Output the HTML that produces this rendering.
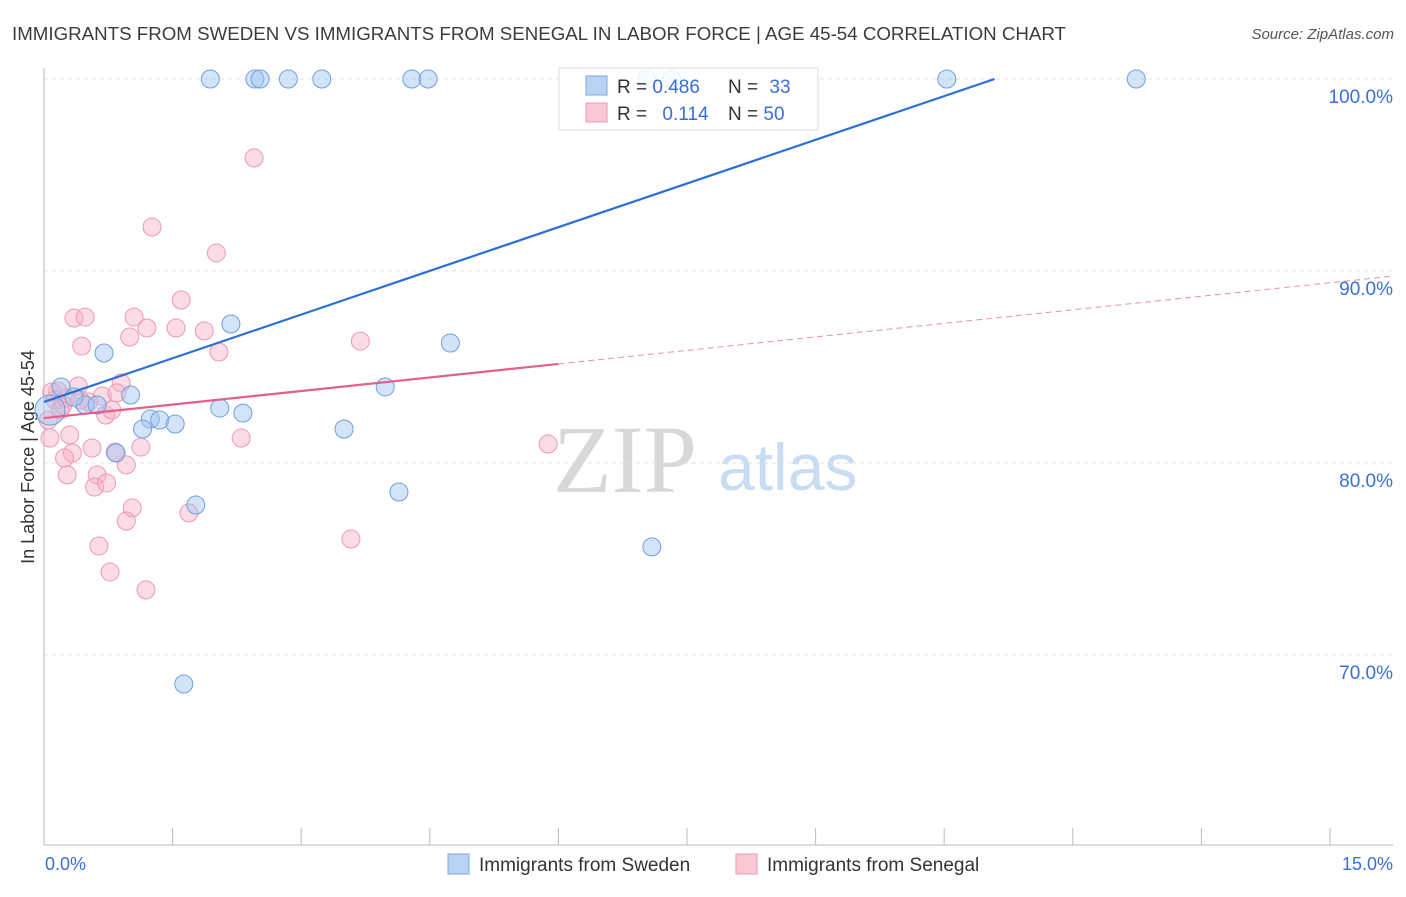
<!DOCTYPE html>
<html><head><meta charset="utf-8"><style>
body{margin:0;background:#fff;font-family:"Liberation Sans",sans-serif}
</style></head><body>
<svg id="chart" width="1406" height="892" xmlns="http://www.w3.org/2000/svg" font-family="Liberation Sans, sans-serif">
<text x="12" y="40" font-size="18" fill="#3c3c3c" textLength="1054" lengthAdjust="spacingAndGlyphs">IMMIGRANTS FROM SWEDEN VS IMMIGRANTS FROM SENEGAL IN LABOR FORCE | AGE 45-54 CORRELATION CHART</text>
<text x="1394" y="39" font-size="15" fill="#555" text-anchor="end" font-style="italic">Source: ZipAtlas.com</text>
<text x="553" y="492" font-size="96" fill="#d8d8d8" font-family="Liberation Serif, serif">ZIP</text>
<text x="718" y="490" font-size="66" fill="#c8dcf4">atlas</text>
<text transform="translate(34,457) rotate(-90)" font-size="18" fill="#333" text-anchor="middle">In Labor Force | Age 45-54</text>
<g id="grid"></g><g id="axes"></g><g id="pts"></g><g id="lines"></g>
<g>
<rect x="559" y="68" width="259" height="62" fill="rgba(255,255,255,0.85)" stroke="#ddd"/>
<rect x="586" y="76" width="21" height="19" fill="#b8d4f4" stroke="#7aa8e4"/>
<rect x="586" y="103" width="21" height="19" fill="#fbc8d6" stroke="#eb98b0"/>
<text x="617" y="93" font-size="19" fill="#333">R = <tspan fill="#3a6fd8">0.486</tspan></text>
<text x="728" y="93" font-size="19" fill="#333">N = <tspan fill="#3a6fd8" dx="6">33</tspan></text>
<text x="617" y="120" font-size="19" fill="#333">R = <tspan fill="#3a6fd8" dx="10">0.114</tspan></text>
<text x="728" y="120" font-size="19" fill="#333">N = <tspan fill="#3a6fd8">50</tspan></text>
</g>
<g>
<rect x="448" y="854" width="21" height="20" fill="#b8d4f4" stroke="#7aa8e4"/>
<text x="479" y="871" font-size="19" fill="#333">Immigrants from Sweden</text>
<rect x="736" y="854" width="21" height="20" fill="#fbc8d6" stroke="#eb98b0"/>
<text x="767" y="871" font-size="19" fill="#333">Immigrants from Senegal</text>
</g>
<text x="45" y="870" font-size="18" fill="#3a6fd8">0.0%</text>
<text x="1393" y="870" font-size="18" fill="#3a6fd8" text-anchor="end">15.0%</text>
</svg>
<script>
const yTicks=[100,90,80,70];
const yTickLabels=["100.0%","90.0%","80.0%","70.0%"];
const xTicks=[0,1.5,3,4.5,6,7.5,9,10.5,12,13.5,15];
const swedenX=[1.94,2.46,2.52,2.85,3.24,4.29,4.48,7.03,7.32,10.53,12.74,2.18,0.70,4.74,0.20,0.48,0.35,1.01,0.62,2.05,2.32,1.24,1.35,1.53,1.15,3.50,3.98,0.84,4.14,1.77,7.09,1.63,0.07];
const swedenY=[100,100,100,100,100,100,100,100,100,100,100,87.24,85.73,86.25,83.96,83.02,83.44,83.54,83.02,82.86,82.60,82.29,82.24,82.03,81.77,81.77,83.96,80.52,78.49,77.81,75.63,68.49,82.76];
const senegalX=[2.45,1.26,2.01,1.60,0.35,0.48,1.05,1.20,1.54,1.87,1.00,0.44,2.04,3.69,0.40,0.90,0.16,0.68,0.85,0.13,0.22,0.72,0.79,0.52,0.07,0.30,2.30,1.13,0.56,0.83,0.33,0.24,5.88,0.27,0.62,0.96,0.59,0.73,1.03,1.69,0.96,0.64,3.58,0.77,1.19,0.05,0.09,0.19,0.42,0.26];
const senegalY=[95.89,92.29,90.94,88.49,87.55,87.60,87.60,87.03,87.03,86.88,86.56,86.09,85.78,86.35,84.01,84.17,83.75,83.49,83.65,83.28,83.02,82.50,82.76,83.18,81.30,81.46,81.30,80.83,80.78,80.57,80.52,80.26,80.99,79.38,79.38,79.90,78.75,78.96,77.66,77.40,76.98,75.68,76.04,74.32,73.39,82.24,83.70,82.76,83.28,83.39];
const swedenTrend=[83.18,1.517];
const senegalTrend=[82.34,0.47];
const sx=v=>44+v*1286/15, sy=v=>79+(100-v)*19.2;
const NS="http://www.w3.org/2000/svg";
function mk(tag,parent,attrs){const e=document.createElementNS(NS,tag);for(const k in attrs)e.setAttribute(k,attrs[k]);document.getElementById(parent).appendChild(e);return e;}
yTicks.forEach((t,i)=>{
 const g=mk('line','grid',{x1:44,x2:1393,y1:sy(t),y2:sy(t),stroke:'#e2e2e2','stroke-dasharray':'4,4'});
 
 
 const l=mk('text','grid',{x:1393,y:sy(t)+24,'font-size':19,fill:'#3a6fd8','text-anchor':'end'});
 l.textContent=yTickLabels[i];
 
 
});
const ax=mk('line','axes',{x1:44,x2:44,y1:68,y2:845,stroke:'#bbb'});


const bx=mk('line','axes',{x1:44,x2:1393,y1:845,y2:845,stroke:'#bbb'});


xTicks.forEach(t=>{
 const k=mk('line','axes',{x1:sx(t),x2:sx(t),y1:828,y2:845,stroke:'#bbb'});
 
 
});
senegalX.forEach((x,i)=>{
 const c=mk('circle','pts',{cx:sx(x),cy:sy(senegalY[i]),r:9,fill:'rgba(246,176,196,0.45)',stroke:'#ec9ab2','stroke-width':1});
 
 
});
swedenX.forEach((x,i)=>{
 const c=mk('circle','pts',{cx:sx(x),cy:sy(swedenY[i]),r:i==swedenX.length-1?15:9,fill:'rgba(160,196,240,0.45)',stroke:'#6e9fe0','stroke-width':1});
 
 
});
const bxEnd=(100-swedenTrend[0])/swedenTrend[1];
const bl=mk('line','lines',{x1:sx(0),y1:sy(swedenTrend[0]),x2:sx(bxEnd),y2:sy(100),stroke:'#2a6fd6','stroke-width':2.2});


const pl=mk('line','lines',{x1:sx(0),y1:sy(senegalTrend[0]),x2:sx(6),y2:sy(senegalTrend[0]+6*senegalTrend[1]),stroke:'#e4608c','stroke-width':2.2});


const pd=mk('line','lines',{x1:sx(6),y1:sy(senegalTrend[0]+6*senegalTrend[1]),x2:1393,y2:sy(senegalTrend[0]+15.73*senegalTrend[1]),stroke:'#e890aa','stroke-width':1,'stroke-dasharray':'6,4'});


</script>
</body></html>
